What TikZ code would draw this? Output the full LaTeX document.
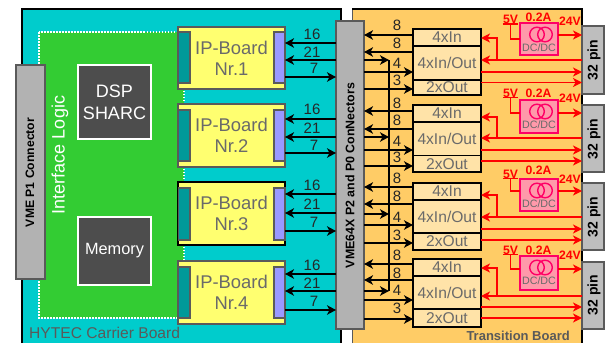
\documentclass[tikz,border=0pt]{standalone}
\usepackage{fontspec}
\setmainfont{Liberation Sans}
\usetikzlibrary{arrows.meta}
\definecolor{teal1}{HTML}{00CCCC}
\definecolor{orange1}{HTML}{FFCC66}
\definecolor{green1}{HTML}{33CC33}
\definecolor{dark1}{HTML}{4D4D4D}
\definecolor{gray1}{HTML}{B2B2B2}
\definecolor{gray2}{HTML}{BEBEBE}
\definecolor{edge1}{HTML}{5A5A5A}
\definecolor{yellow1}{HTML}{FFFF70}
\definecolor{tealdark}{HTML}{009999}
\definecolor{purple1}{HTML}{9999FF}
\definecolor{boxfill}{HTML}{FFE3A8}
\definecolor{pink1}{HTML}{FF99AA}
\definecolor{pink2}{HTML}{FF0066}
\definecolor{txtgray}{HTML}{6A6A6A}
\definecolor{numcol}{HTML}{262626}
\newcommand{\fs}[1]{\fontsize{#1}{#1}\selectfont}
\tikzset{
 rectbox/.style args={#1/#2/#3/#4}{anchor=north west,inner sep=0pt,outer sep=0pt,
   minimum width={(#3-#1)*1pt},minimum height={(#4-#2)*1pt}},
 chip/.style={fill=dark1,draw=white,line width=1.3pt,text=white,align=center},
 connbox/.style={fill=gray1,draw=edge1,line width=1.5pt,text=black},
 pinbox/.style={fill=gray2,draw=edge1,line width=1.5pt,text=black},
 ipboard/.style={fill=yellow1,line width=1.5pt,text=txtgray,align=center,font=\fontsize{18.4}{21}\selectfont},
 lslot/.style={fill=tealdark,draw=edge1,line width=1.5pt},
 rslot/.style={fill=purple1,draw=edge1,line width=1.5pt},
 iobox/.style={fill=boxfill,draw=black,line width=1.5pt,text=txtgray,font=\fs{15.6}},
 dcbox/.style={fill=pink1,draw=pink2,line width=1.3pt},
 num/.style={inner sep=0pt,text=numcol,font=\fs{15}},
 redlab/.style={inner sep=0pt,text=red,font=\fs{12.2}\bfseries},
 blk/.style={draw=black,line width=1.3pt},
 blkarr/.style={blk,-{Stealth[length=9pt,width=9.5pt,inset=2.5pt]}},
 redln/.style={draw=red,line width=1.4pt},
 redarr/.style={redln,-{Stealth[length=9pt,width=9pt,inset=2.5pt]}},
}
\begin{document}
\begin{tikzpicture}[x=1pt,y=-1pt]
\useasboundingbox (0,0) rectangle (607,343);
\fill[white] (0,0) rectangle (607,343);
% carrier board
\fill[teal1] (22,9) rectangle (341,343);
\draw[black,line width=1.5pt] (22,343) -- (22,9) -- (341,9) -- (341,343);
% transition board
\fill[orange1] (352,9) rectangle (582,343);
\draw[edge1,line width=1pt] (352,343) -- (352,9);
\draw[black,line width=1.5pt] (352,9) -- (582,9) -- (582,343);
% interface logic
\fill[green1] (39,32) rectangle (184,318);
\draw[white,line width=1.2pt,dash pattern=on 1.5pt off 1.5pt] (39,32) rectangle (184,318);
\node[rotate=90,inner sep=0pt,text=white,font=\fs{18}] (iface) at (60,155) {Interface Logic};
\node[chip,rectbox=78/65/151/139,font=\fontsize{18}{22}\selectfont] (dsp) at (78,65) {DSP\\SHARC};
\node[chip,rectbox=78/217/151/285,font=\fs{16.3}] (mem) at (78,217) {Memory};
\node[connbox,rectbox=16/65/45/279] (p1) at (16,65) {};
\node[rotate=90,inner sep=0pt,font=\fs{12.2}\bfseries] (p1t) at (30,172.5) {VME P1 Connector};
\node[inner sep=0pt,anchor=west,text=edge1,font=\fs{15.6}] (carrierlab) at (29,333) {HYTEC Carrier Board};
\node[inner sep=0pt,anchor=east,text=edge1,font=\fs{13}\bfseries] (translab) at (570,336) {Transition Board};
% VME64X connector
\node[connbox,rectbox=336/21/364/329] (vme) at (336,21) {};
\node[rotate=90,inner sep=0pt,font=\fs{12.4}\bfseries] (vmet) at (350,175.5) {VME64X P2 and P0 ConNectors};
% IP boards
\foreach \i/\t/\b/\st/\sb/\bc/\ya/\yb/\yc/\la/\lb/\lc in {
 1/27/89/32/83/edge1/43/60/77/34/52/68,
 2/104/167/110/161/edge1/119/137/153/109/128/145,
 3/182/245/188/240/black/194/213/231/185/204/222,
 4/261/324/267/318/edge1/274/291/310/265/283/301}{
 \node[ipboard,draw=\bc,rectbox=178/\t/285/\b] (b\i) at (178,\t) {IP-Board\\Nr.\i};
 \node[lslot,rectbox=178.5/\st/190/\sb] (ls\i) at (178.5,\st) {};
 \node[rslot,rectbox=274/\st/285/\sb] (rs\i) at (274,\st) {};
 \draw[blkarr] (vme.west |- 0,\ya) -- (b\i.east |- 0,\ya);
 \draw[blkarr] (vme.west |- 0,\yb) -- (b\i.east |- 0,\yb);
 \draw[blkarr] (b\i.east |- 0,\yc) -- (vme.west |- 0,\yc);
 \node[num] (n16\i) at (312,\la) {16};
 \node[num] (n21\i) at (312,\lb) {21};
 \node[num] (n7\i) at (314,\lc) {7};
}
% bus
\coordinate (bustop) at (389,60);
\coordinate (busbot) at (389,291);
\draw[blk] (bustop) -- (busbot);
% transition groups
\foreach \g/\a/\bb/\c/\d/\la/\lb/\ss/\ra/\rb/\na/\nb/\nc/\nd in {
 1/29/46/80/95/35/52/60/72/89/25/43/63/80,
 2/105/122/155.5/172/111/129/137/150/166/103/120/141/157,
 3/183/200/233/250/187/204/214/225/243/178/196/217/235,
 4/259/276/309/327/264/280/291/300/319/255/273/290/308}{
 \node[iobox,rectbox=413/\a/481/\bb] (in\g) at (413,\a) {4xIn};
 \node[iobox,rectbox=413/\bb/481/\c] (io\g) at (413,\bb) {4xIn/Out};
 \node[iobox,rectbox=413/\c/481/\d] (out\g) at (413,\c) {2xOut};
 \draw[blkarr] (in\g.west |- 0,\la) -- (vme.east |- 0,\la);
 \draw[blkarr] (in\g.west |- 0,\lb) -- (vme.east |- 0,\lb);
 \draw[blkarr] (vme.east |- 0,\ss) -- (bustop |- 0,\ss);
 \draw[blkarr] (vme.east |- 0,\ra) -- (in\g.west |- 0,\ra);
 \draw[blkarr] (vme.east |- 0,\rb) -- (in\g.west |- 0,\rb);
 \node[num] (na\g) at (397,\na) {8};
 \node[num] (nb\g) at (397,\nb) {8};
 \node[num] (nc\g) at (397,\nc) {4};
 \node[num] (nd\g) at (397,\nd) {3};
}
% power
\foreach \g/\pt/\pb/\pc/\dt/\db/\ent/\oy/\ul/\ty/\vy/\ra/\rb/\rc/\rd in {
 1/26/94/60/23/55/39/35/24.5/17/21.5/38/60/72/82.5,
 2/105/172/139/100/133/113/113/98/93/98/117/138/150/161,
 3/183/250/217/179/211/191/191/179/170/179/195/217/229/240,
 4/262/329/295/256/290/269/269/255/250/255/268/296/307/318}{
 \node[pinbox,rectbox=582/\pt/604/\pb] (pin\g) at (582,\pt) {};
 \node[rotate=90,inner sep=0pt,font=\fs{14}\bfseries] (pint\g) at (594,\pc) {32 pin};
 \node[dcbox,rectbox=520/\dt/558/\db] (dc\g) at (520,\dt) {};
 \draw[pink2,line width=1.4pt] (537,\dt+11.5) circle[radius=7.3pt] (545,\dt+11.5) circle[radius=7.3pt];
 \node[inner sep=0pt,text=txtgray,font=\fs{10.7}] (dct\g) at (539,\dt+25) {DC/DC};
 \node[redlab,anchor=south,minimum width=13pt] (v\g) at (510.5,\ul-0.5) {5V};
 \draw[redln] (v\g.south west) -- (v\g.south east);
 \draw[redln] (v\g.south) |- (dc\g.west |- 0,\ent);
 \node[redlab] (a\g) at (538.5,\ty) {0.2A};
 \node[redlab] (w\g) at (570,\vy) {24V};
 \draw[redarr] (dc\g.east |- 0,\oy) -- (pin\g.west |- 0,\oy);
 \draw[redarr] (pin\g.west |- 0,\rb) -- (in\g.east |- 0,\rb);
 \draw[redarr] (497,\rb) |- (in\g.east |- 0,\ra);
 \draw[redarr] (in\g.east |- 0,\rc) -- (pin\g.west |- 0,\rc);
 \draw[redarr] (in\g.east |- 0,\rd) -- (pin\g.west |- 0,\rd);
}
\end{tikzpicture}
\end{document}
